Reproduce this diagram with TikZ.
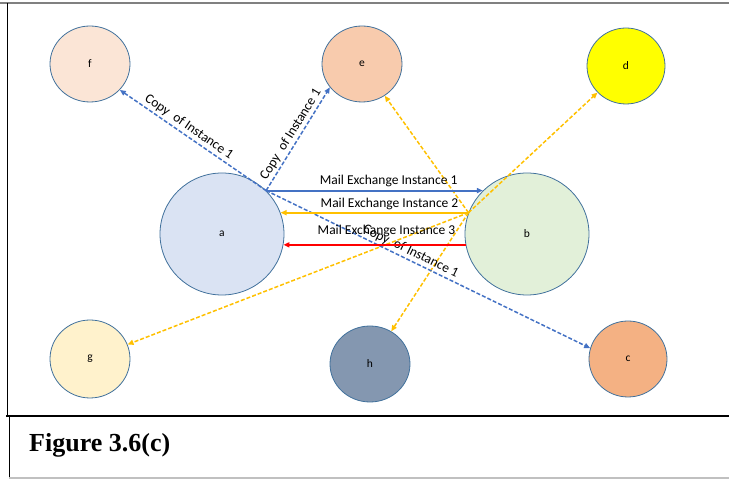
\documentclass[tikz,border=0pt]{standalone}
\usepackage{fontspec}
\setmainfont{Carlito}
\newfontfamily\figcaptionfont{Liberation Serif}
\usetikzlibrary{arrows.meta,shapes.geometric}

\definecolor{nodeedge}{HTML}{41719C}
\definecolor{fillf}{HTML}{FBE5D6}
\definecolor{fille}{HTML}{F8CBAD}
\definecolor{filld}{HTML}{FFFF00}
\definecolor{filla}{HTML}{DAE3F3}
\definecolor{fillb}{HTML}{E2F0D9}
\definecolor{fillg}{HTML}{FFF2CC}
\definecolor{fillh}{HTML}{8497B0}
\definecolor{fillc}{HTML}{F4B183}
\definecolor{lineblue}{HTML}{4472C4}
\definecolor{lineyellow}{HTML}{FFC000}
\definecolor{linered}{HTML}{FF0000}
\definecolor{framegray}{HTML}{808080}

\tikzset{
  peer/.style={ellipse, draw=nodeedge, line width=0.8pt, inner sep=0pt,
    text=black, font=\fontsize{11.5}{13}\selectfont},
  smallpeer/.style={peer, minimum width=80pt, minimum height=76pt},
  bigpeer/.style={peer, minimum width=124pt, minimum height=122pt},
  tip/.style={-{Triangle[length=6pt,width=5pt]}},
  mailarrow/.style={tip, line width=2pt},
  copyarrow/.style={tip, line width=1.5pt, dash pattern=on 4pt off 2pt},
  edgelabel/.style={font=\fontsize{13.5}{15}\selectfont, text=black, inner sep=2pt}
}

\begin{document}
\begin{tikzpicture}[x=1pt,y=1pt]
  \useasboundingbox (0,0) rectangle (729,479);

  % frames of the drawing panel and the caption panel
  \draw[framegray, line width=2pt] (0,476) -- (729,476);
  \draw[black, line width=1pt] (7,476) -- (7,63);
  \draw[black, line width=2pt] (6,63) -- (729,63);
  \draw[black, line width=1pt] (9,63) -- (9,0);
  \draw[framegray!50, line width=1.2pt] (9,1) -- (729,1);

  \node[anchor=base west, inner sep=0pt, font=\figcaptionfont\bfseries\fontsize{26}{30}\selectfont]
    (caption) at (29,27) {Figure 3.6(c)};

  % peers
  \node[smallpeer, fill=fillf] (f) at (90,415) {f};
  \node[smallpeer, fill=fille] (e) at (362,415) {e};
  \node[smallpeer, fill=filld, minimum width=78pt] (d) at (626,413) {d};
  \node[bigpeer, fill=filla] (a) at (222,245) {a};
  \node[bigpeer, fill=fillb] (b) at (527,245) {b};
  \node[smallpeer, fill=fillg, minimum height=78pt] (g) at (90,120) {g};
  \node[smallpeer, fill=fillh] (h) at (370,115) {h};
  \node[smallpeer, fill=fillc, minimum width=78pt] (c) at (628,120) {c};

  % copies forwarded by b
  \draw[copyarrow, lineyellow] (b.160) -- (e);
  \draw[copyarrow, lineyellow] (b.160) -- (d);
  \draw[copyarrow, lineyellow] (b.160) -- (g);
  \draw[copyarrow, lineyellow] (b.160) -- (h);

  % copies forwarded by a
  \draw[copyarrow, lineblue] (a.north east) --
    node[edgelabel, sloped, above, pos=0.56] {Copy\hspace{0.25em} of Instance 1} (f.-41);
  \draw[copyarrow, lineblue] (a.north east) --
    node[edgelabel, sloped, above, pos=0.5] {Copy\hspace{0.25em} of Instance 1} (e.216);
  \draw[copyarrow, lineblue] (a.north east) --
    node[edgelabel, sloped, above, pos=0.435] {Copy\hspace{0.25em} of Instance 1} (c.164);

  % mail exchanges between a and b
  \draw[mailarrow, lineblue] (a.north east) --
    node[edgelabel, pos=0.565, anchor=base, yshift=6pt] {Mail Exchange Instance 1} (b.north west);
  \draw[mailarrow, lineyellow] (b.160) --
    node[edgelabel, pos=0.42, anchor=base, yshift=5pt] {Mail Exchange Instance 2} (a.20);
  \draw[mailarrow, linered] (b.190) --
    node[edgelabel, pos=0.434, anchor=base, yshift=10pt] {Mail Exchange Instance 3} (a.-10);
\end{tikzpicture}
\end{document}
